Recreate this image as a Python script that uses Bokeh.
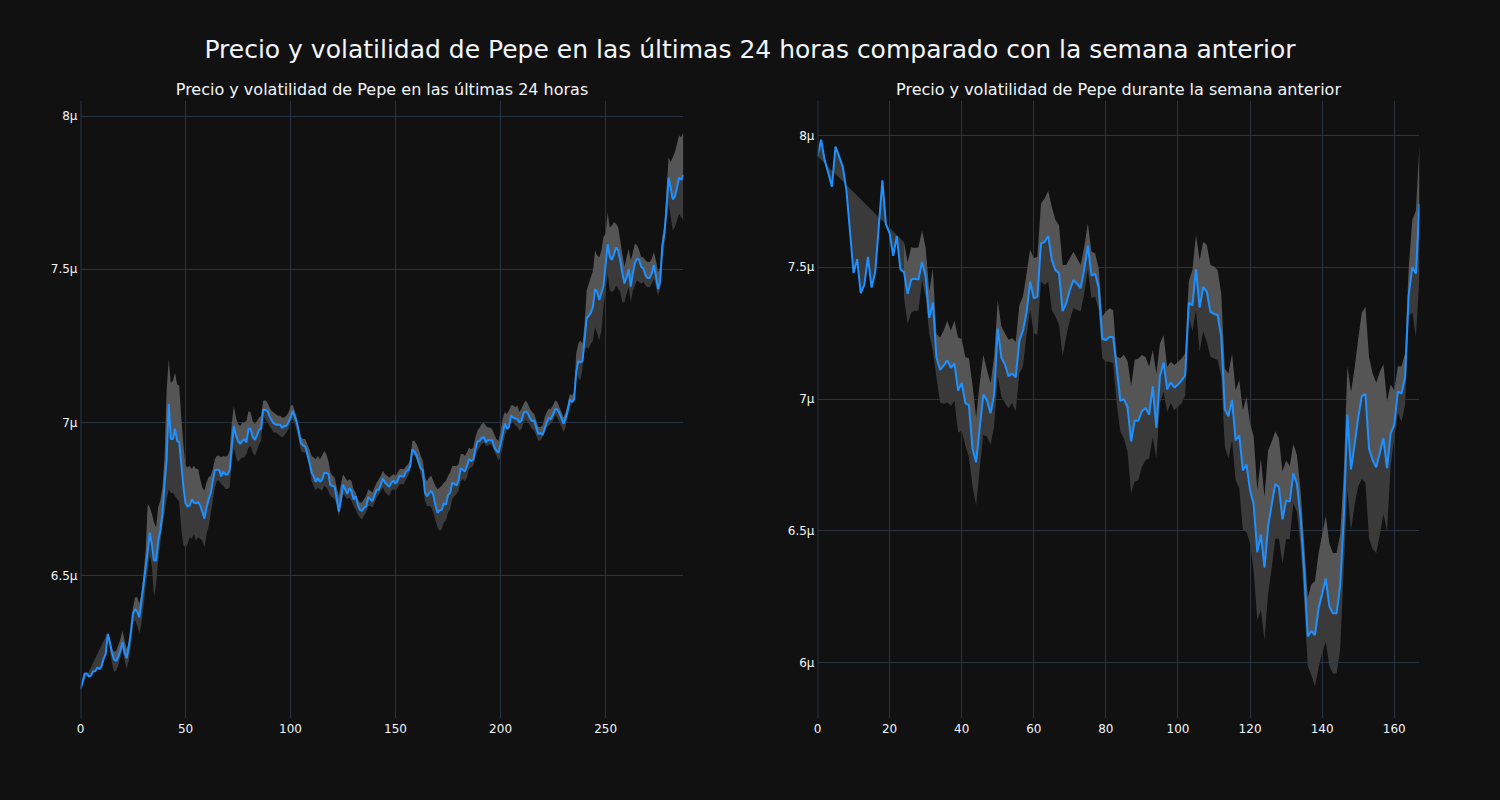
from bokeh.plotting import figure
from bokeh.layouts import column, row
from bokeh.models import Range1d, FixedTicker, Span, Div, CustomJSTickFormatter, ColumnDataSource
from bokeh.embed import file_html
from bokeh.resources import INLINE

# ---------------- data: last 24 hours (5-min steps) ----------------
price_24h = [
    6.129, 6.153, 6.18, 6.18, 6.17, 6.173, 6.187, 6.187, 6.20, 6.194,
    6.203, 6.228, 6.244, 6.309, 6.282, 6.248, 6.225, 6.221, 6.234, 6.255,
    6.282, 6.248, 6.23, 6.268, 6.316, 6.377, 6.39, 6.383, 6.363, 6.417,
    6.47, 6.525, 6.58, 6.64, 6.60, 6.549, 6.549, 6.614, 6.648, 6.70,
    6.797, 6.878, 7.061, 6.946, 6.946, 6.98, 6.94, 6.935, 6.864, 6.79,
    6.736, 6.725, 6.729, 6.749, 6.738, 6.736, 6.74, 6.729, 6.709, 6.686,
    6.722, 6.749, 6.77, 6.81, 6.844, 6.846, 6.846, 6.824, 6.84, 6.83,
    6.83, 6.844, 6.918, 6.989, 6.959, 6.939, 6.93, 6.939, 6.946, 6.935,
    6.98, 6.98, 6.953, 6.943, 6.957, 6.976, 6.98, 7.043, 7.041, 7.038,
    7.02, 7.007, 6.997, 6.993, 6.993, 6.993, 6.982, 6.989, 6.989, 7.0,
    7.016, 7.038, 7.02, 7.0, 6.966, 6.932, 6.925, 6.921, 6.898, 6.871,
    6.837, 6.824, 6.806, 6.819, 6.806, 6.813, 6.835, 6.835, 6.833, 6.794,
    6.793, 6.79, 6.749, 6.709, 6.749, 6.797, 6.783, 6.767, 6.786, 6.776,
    6.749, 6.759, 6.732, 6.715, 6.711, 6.722, 6.725, 6.756, 6.749, 6.743,
    6.763, 6.78, 6.78, 6.797, 6.817, 6.803, 6.797, 6.79, 6.803, 6.81,
    6.80, 6.81, 6.827, 6.824, 6.824, 6.84, 6.844, 6.858, 6.912, 6.905,
    6.892, 6.871, 6.851, 6.844, 6.77, 6.759, 6.77, 6.776, 6.763, 6.729,
    6.705, 6.713, 6.715, 6.736, 6.732, 6.763, 6.77, 6.803, 6.80, 6.794,
    6.81, 6.851, 6.846, 6.84, 6.858, 6.881, 6.874, 6.878, 6.912, 6.939,
    6.939, 6.949, 6.953, 6.935, 6.943, 6.942, 6.942, 6.921, 6.908, 6.901,
    6.93, 6.962, 6.997, 6.98, 6.986, 7.023, 7.016, 7.014, 7.011, 7.0,
    7.007, 7.031, 7.037, 7.03, 7.014, 7.004, 7.007, 6.984, 6.962, 6.966,
    6.959, 6.98, 7.0, 7.016, 7.011, 7.027, 7.043, 7.043, 7.03, 7.014,
    6.996, 7.014, 7.041, 7.075, 7.068, 7.075, 7.163, 7.201, 7.196, 7.201,
    7.271, 7.341, 7.348, 7.359, 7.379, 7.436, 7.427, 7.40, 7.423, 7.447,
    7.515, 7.583, 7.542, 7.531, 7.549, 7.572, 7.562, 7.528, 7.488, 7.454,
    7.474, 7.501, 7.444, 7.488, 7.522, 7.535, 7.531, 7.508, 7.504, 7.481,
    7.472, 7.472, 7.488, 7.515, 7.477, 7.436, 7.46, 7.576, 7.617, 7.698,
    7.80, 7.766, 7.729, 7.738, 7.766, 7.80, 7.793, 7.809,
]

upper_24h = [None] * 13 + [
    6.315, 6.283, 6.261, 6.25, 6.255, 6.272, 6.293, 6.32, 6.288, 6.261,
    6.283, 6.32, 6.397, 6.429, 6.429, 6.408, 6.44, 6.505, 6.582, 6.734,
    6.723, 6.701, 6.674, 6.658, 6.723, 6.745, 6.788, 6.886, 7.103, 7.207,
    7.13, 7.136, 7.163, 7.125, 7.12, 7.016, 6.929, 6.859, 6.853, 6.859,
    6.848, 6.859, 6.848, 6.848, 6.815, 6.788, 6.777, 6.804, 6.821, 6.826,
    6.848, 6.88, 6.891, 6.891, 6.886, 6.891, 6.888, 6.891, 6.908, 6.995,
    7.054, 7.016, 6.995, 6.989, 7.0, 7.0, 7.005, 7.038, 7.033, 7.005,
    6.995, 7.005, 7.016, 7.022, 7.071, 7.073, 7.065, 7.049, 7.038, 7.033,
    7.027, 7.022, 7.022, 7.016, 7.016, 7.022, 7.033, 7.054,
    7.058, 7.038, 7.016, 6.984, 6.951, 6.946, 6.946, 6.929, 6.913, 6.891,
    6.886, 6.88, 6.891, 6.88, 6.891, 6.907, 6.897, 6.875, 6.837, 6.826,
    6.82, 6.788, 6.76, 6.798, 6.831, 6.82, 6.809, 6.815, 6.809, 6.782,
    6.771, 6.749, 6.739, 6.739, 6.749, 6.76, 6.782, 6.777, 6.771, 6.788,
    6.804, 6.815, 6.826, 6.842, 6.831, 6.826, 6.82, 6.826, 6.831, 6.826,
    6.837, 6.848, 6.848, 6.848, 6.858, 6.864, 6.88, 6.94, 6.94, 6.929,
    6.913, 6.891, 6.875, 6.82, 6.809, 6.82, 6.826, 6.809, 6.793, 6.782,
    6.788, 6.793, 6.804, 6.809, 6.826, 6.837, 6.858, 6.858, 6.858, 6.864,
    6.897, 6.897, 6.891, 6.902, 6.918, 6.913, 6.918, 6.951, 6.973, 6.984,
    6.995, 7.0, 6.989, 6.984, 6.984, 6.978, 6.962, 6.946, 6.94, 6.97,
    7.012, 7.034, 7.028, 7.039, 7.056, 7.056, 7.05, 7.056, 7.034, 7.045,
    7.061, 7.072, 7.061, 7.045, 7.034, 7.028, 7.007, 6.985, 6.985, 6.99,
    7.017, 7.034, 7.045, 7.045, 7.056, 7.072, 7.067, 7.05, 7.034, 7.017,
    7.034, 7.061, 7.094, 7.088, 7.099, 7.224, 7.257, 7.268, 7.257, 7.322,
    7.431, 7.453, 7.475, 7.497, 7.562, 7.546, 7.54, 7.562, 7.606, 7.617,
    7.687, 7.638, 7.644, 7.655, 7.649, 7.638, 7.595, 7.551, 7.508, 7.54,
    7.568, 7.529, 7.557, 7.584, 7.579, 7.562, 7.54, 7.54, 7.529, 7.524,
    7.524, 7.535, 7.557, 7.529, 7.491, 7.508, 7.606, 7.644, 7.758, 7.867,
    7.851, 7.867, 7.883, 7.911, 7.938, 7.932, 7.949,
]

lower_24h = [None] * 13 + [
    6.299, 6.255, 6.212, 6.185, 6.19, 6.207, 6.234, 6.26, 6.223, 6.196,
    6.223, 6.266, 6.348, 6.353, 6.337, 6.31, 6.342, 6.397, 6.462, 6.516,
    6.57, 6.527, 6.429, 6.472, 6.549, 6.603, 6.658, 6.70, 6.75, 6.78,
    6.77, 6.77, 6.76, 6.75, 6.74, 6.65, 6.60, 6.592, 6.603, 6.625,
    6.62, 6.636, 6.614, 6.625, 6.62, 6.614, 6.592, 6.636, 6.658, 6.701,
    6.745, 6.788, 6.81, 6.81, 6.799, 6.793, 6.783, 6.783, 6.788, 6.864,
    6.918, 6.886, 6.87, 6.88, 6.886, 6.886, 6.897, 6.918, 6.924, 6.902,
    6.891, 6.908, 6.929, 6.94, 7.022, 7.011, 7.0, 6.989, 6.978, 6.967,
    6.967, 6.962, 6.957, 6.951, 6.957, 6.967, 6.978, 7.0,
    7.011, 6.995, 6.973, 6.94, 6.907, 6.902, 6.902, 6.88, 6.853, 6.809,
    6.793, 6.777, 6.788, 6.782, 6.777, 6.793, 6.788, 6.777, 6.76, 6.755,
    6.749, 6.733, 6.69, 6.733, 6.766, 6.76, 6.749, 6.755, 6.744, 6.727,
    6.717, 6.70, 6.689, 6.684, 6.695, 6.706, 6.727, 6.727, 6.722, 6.738,
    6.755, 6.766, 6.777, 6.788, 6.771, 6.766, 6.76, 6.777, 6.782, 6.777,
    6.788, 6.798, 6.798, 6.798, 6.815, 6.826, 6.842, 6.897, 6.891, 6.88,
    6.858, 6.831, 6.809, 6.744, 6.727, 6.727, 6.722, 6.706, 6.679, 6.657,
    6.646, 6.651, 6.673, 6.679, 6.706, 6.717, 6.749, 6.76, 6.766, 6.777,
    6.809, 6.815, 6.809, 6.82, 6.847, 6.853, 6.858, 6.886, 6.907, 6.918,
    6.929, 6.935, 6.924, 6.924, 6.929, 6.924, 6.907, 6.891, 6.875, 6.89,
    6.919, 6.957, 6.974, 6.979, 7.001, 7.001, 6.99, 6.985, 6.974, 6.979,
    7.001, 7.007, 7.001, 6.99, 6.979, 6.974, 6.957, 6.941, 6.941, 6.952,
    6.968, 6.985, 6.99, 6.996, 7.007, 7.023, 7.017, 7.001, 6.985, 6.968,
    6.985, 7.017, 7.05, 7.061, 7.067, 7.159, 7.148, 7.137, 7.176, 7.235,
    7.246, 7.242, 7.257, 7.268, 7.312, 7.29, 7.268, 7.301, 7.377, 7.431,
    7.486, 7.431, 7.426, 7.431, 7.448, 7.437, 7.426, 7.393, 7.393, 7.42,
    7.442, 7.393, 7.431, 7.448, 7.464, 7.459, 7.453, 7.459, 7.448, 7.442,
    7.442, 7.453, 7.47, 7.442, 7.415, 7.437, 7.53, 7.573, 7.66, 7.715,
    7.671, 7.627, 7.638, 7.66, 7.682, 7.671, 7.66,
]

# ---------------- data: previous week (hourly) ----------------
price_7d = [
    7.921, 7.984, 7.906, 7.858, 7.806, 7.958, 7.921, 7.882, 7.795, 7.638,
    7.478, 7.531, 7.402, 7.434, 7.54, 7.423, 7.481, 7.654, 7.83, 7.662,
    7.63, 7.544, 7.618, 7.493, 7.481, 7.399, 7.454, 7.457, 7.454, 7.52,
    7.465, 7.308, 7.367, 7.158, 7.111, 7.127, 7.147, 7.119, 7.135, 7.032,
    7.061, 6.985, 6.977, 6.812, 6.76, 6.891, 7.017, 6.996, 6.946, 7.017,
    7.268, 7.158, 7.131, 7.087, 7.097, 7.083, 7.221, 7.26, 7.331, 7.445,
    7.382, 7.389, 7.591, 7.596, 7.619, 7.528, 7.489, 7.478, 7.334, 7.363,
    7.413, 7.452, 7.438, 7.421, 7.493, 7.583, 7.468, 7.476, 7.423, 7.229,
    7.224, 7.236, 7.236, 7.119, 6.993, 7.0, 6.969, 6.839, 6.919, 6.918,
    6.954, 6.966, 6.941, 7.048, 6.891, 7.087, 7.139, 7.037, 7.064, 7.043,
    7.055, 7.071, 7.09, 7.366, 7.355, 7.493, 7.347, 7.426, 7.407, 7.331,
    7.323, 7.319, 7.237, 6.961, 6.935, 6.997, 6.843, 6.862, 6.729, 6.752,
    6.655, 6.60, 6.419, 6.486, 6.36, 6.516, 6.60, 6.678, 6.666, 6.544,
    6.615, 6.611, 6.718, 6.678, 6.552, 6.348, 6.099, 6.12, 6.104, 6.206,
    6.261, 6.319, 6.214, 6.187, 6.187, 6.293, 6.552, 6.941, 6.733, 6.828,
    6.93, 7.011, 7.02, 6.812, 6.768, 6.741, 6.796, 6.851, 6.738, 6.87,
    6.902, 7.029, 7.021, 7.083, 7.394, 7.501, 7.476, 7.74,
]

upper_7d = [None] * 24 + [
    7.595, 7.52, 7.576, 7.573, 7.576, 7.64, 7.576, 7.41, 7.494, 7.247,
    7.234, 7.26, 7.297, 7.26, 7.297, 7.234, 7.228, 7.16, 7.155, 7.055,
    6.93, 7.06, 7.168, 7.111, 7.06, 7.162, 7.376, 7.275, 7.25, 7.225,
    7.231, 7.218, 7.357, 7.389, 7.477, 7.568, 7.534, 7.54, 7.742, 7.761,
    7.79, 7.73, 7.68, 7.66, 7.509, 7.509, 7.534, 7.559, 7.534, 7.509,
    7.578, 7.667, 7.559, 7.553, 7.496, 7.313, 7.332, 7.345, 7.338, 7.162,
    7.155, 7.168, 7.145, 7.05, 7.148, 7.154, 7.167, 7.16, 7.123, 7.186,
    7.097, 7.211, 7.243, 7.123, 7.142, 7.129, 7.142, 7.154, 7.173, 7.446,
    7.49, 7.623, 7.528, 7.597, 7.585, 7.509, 7.503, 7.49, 7.401, 7.116,
    7.097, 7.173, 7.034, 7.072, 6.958, 7.009, 6.908, 6.857, 6.654, 6.775,
    6.629, 6.806, 6.838, 6.878, 6.85, 6.725, 6.767, 6.746, 6.83, 6.788,
    6.654, 6.458, 6.247, 6.296, 6.31, 6.416, 6.486, 6.556, 6.451, 6.416,
    6.416, 6.486, 6.725, 7.125, 7.027, 7.118, 7.23, 7.329, 7.35, 7.16,
    7.097, 7.062, 7.104, 7.132, 6.992, 7.055, 7.034, 7.125, 7.125, 7.174,
    7.497, 7.68, 7.715, 7.968,
]

lower_7d = [None] * 24 + [
    7.386, 7.285, 7.329, 7.335, 7.335, 7.449, 7.386, 7.247, 7.184, 7.082,
    6.987, 6.981, 6.987, 6.975, 6.994, 6.873, 6.88, 6.825, 6.78, 6.67,
    6.595, 6.735, 6.865, 6.857, 6.827, 6.896, 7.086, 7.01, 6.985, 6.966,
    6.985, 6.953, 7.097, 7.124, 7.244, 7.338, 7.25, 7.244, 7.446, 7.433,
    7.446, 7.338, 7.313, 7.282, 7.162, 7.237, 7.3, 7.345, 7.338, 7.332,
    7.402, 7.49, 7.383, 7.389, 7.338, 7.155, 7.142, 7.142, 7.136, 6.985,
    6.876, 6.85, 6.80, 6.645, 6.686, 6.692, 6.743, 6.768, 6.775, 6.857,
    6.775, 6.984, 7.028, 6.952, 6.984, 6.958, 6.971, 6.984, 7.015, 7.313,
    7.256, 7.338, 7.18, 7.256, 7.218, 7.161, 7.154, 7.148, 7.085, 6.819,
    6.775, 6.844, 6.692, 6.661, 6.502, 6.496, 6.452, 6.35, 6.161, 6.199,
    6.085, 6.26, 6.36, 6.47, 6.47, 6.374, 6.469, 6.469, 6.605, 6.57,
    6.444, 6.233, 5.987, 5.952, 5.91, 5.98, 6.037, 6.079, 5.987, 5.959,
    5.959, 6.05, 6.36, 6.654, 6.50, 6.598, 6.669, 6.697, 6.683, 6.472,
    6.43, 6.416, 6.486, 6.563, 6.50, 6.746, 6.851, 6.949, 6.914, 6.978,
    7.315, 7.329, 7.237, 7.462,
]

main_title = "Precio y volatilidad de Pepe en las últimas 24 horas comparado con la semana anterior"
title_24h = "Precio y volatilidad de Pepe en las últimas 24 horas"
title_7d = "Precio y volatilidad de Pepe durante la semana anterior"

xticks_24h = [0, 50, 100, 150, 200, 250]
xticks_7d = [0, 20, 40, 60, 80, 100, 120, 140, 160]
yticks_24h = [6.5, 7, 7.5, 8]
yticks_7d = [6, 6.5, 7, 7.5, 8]

BG = "#111111"
GRID = "#283442"
FONT_COLOR = "#f2f5fa"
FONT = "DejaVu Sans"
LINE = "#1E90FF"
LIGHT = "#555555"
DARK = "#3a3a3a"


def make_fig(price, upper, lower, title, xr, yr, xticks, yticks,
             border_left, border_right):
    n = len(price)
    x = list(range(n))
    start = next(i for i, v in enumerate(upper) if v is not None)
    bx = x[start:]
    band = ColumnDataSource(dict(x=bx, price=price[start:],
                                 upper=upper[start:], lower=lower[start:]))
    p = figure(frame_width=border_right[0], frame_height=618,
               min_border_left=border_left, min_border_right=border_right[1],
               min_border_top=30, min_border_bottom=82,
               x_range=Range1d(*xr), y_range=Range1d(*yr),
               output_backend="svg", toolbar_location=None, title=title)
    p.background_fill_color = BG
    p.border_fill_color = BG
    p.outline_line_color = None

    p.title.text_font = FONT
    p.title.text_font_size = "16px"
    p.title.text_font_style = "normal"
    p.title.text_color = FONT_COLOR
    p.title.align = "center"
    p.title.standoff = 4

    # volatility band: lower -> price (darker), price -> upper (lighter)
    p.varea(x="x", y1="lower", y2="price", source=band, fill_color=DARK)
    p.varea(x="x", y1="price", y2="upper", source=band, fill_color=LIGHT)
    # connecting wedge before the rolling window is complete
    wx = x[:start + 1] + [start]
    wy = price[:start + 1] + [upper[start]]
    p.patch(wx, wy, fill_color=DARK, line_color=None)

    p.line(x, price, line_color=LINE, line_width=2)

    for ax in (p.xaxis, p.yaxis):
        ax.axis_line_color = None
        ax.major_tick_line_color = None
        ax.minor_tick_line_color = None
        ax.major_tick_out = 0
        ax.major_label_text_color = FONT_COLOR
        ax.major_label_text_font = FONT
        ax.major_label_text_font_size = "12px"
    p.xaxis.ticker = FixedTicker(ticks=xticks)
    p.yaxis.ticker = FixedTicker(ticks=yticks)
    p.yaxis.formatter = CustomJSTickFormatter(code="return tick + 'µ';")
    p.xaxis.major_label_standoff = 5
    p.yaxis.major_label_standoff = 3

    p.xgrid.grid_line_color = GRID
    p.ygrid.grid_line_color = GRID
    p.xgrid.grid_line_width = 1
    p.ygrid.grid_line_width = 1
    p.add_layout(Span(location=0, dimension="height", line_color=GRID, line_width=2))
    return p


p1 = make_fig(price_24h, upper_24h, lower_24h, title_24h,
              (0, 287.1), (6.033, 8.052), xticks_24h, yticks_24h, 80, (603, 67))
p2 = make_fig(price_7d, upper_7d, lower_7d, title_7d,
              (0, 167), (5.788, 8.133), xticks_7d, yticks_7d, 67, (602, 81))

header = Div(
    text=('<div style="width:1500px;text-align:center;font-family:\'DejaVu Sans\';'
          'font-size:25px;line-height:28px;color:#f2f5fa;padding-top:36px;">'
          + main_title + '</div>'),
    width=1500, height=70,
    styles={"background-color": BG, "margin": "0", "padding": "0"},
)

layout = column(header, row(p1, p2, styles={"background-color": BG}),
                styles={"background-color": BG})

open("out.html", "w").write(file_html(layout, INLINE))
